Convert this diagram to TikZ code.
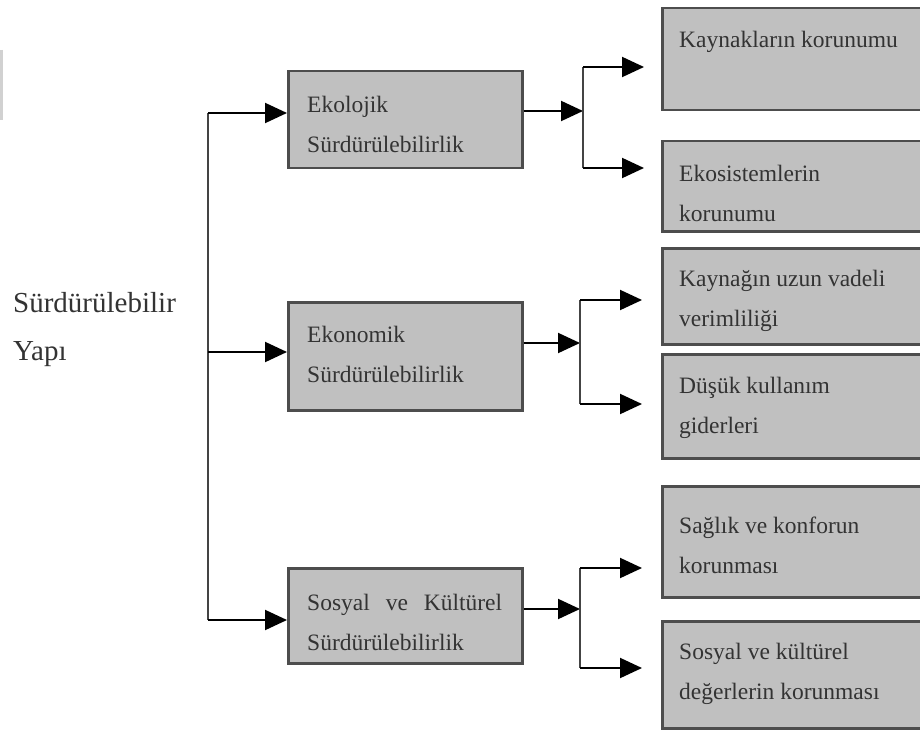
\documentclass[tikz,border=0pt]{standalone}
\usepackage{fontspec}
\setmainfont{Liberation Serif}
\usetikzlibrary{arrows.meta}
\definecolor{boxfill}{HTML}{C0C0C0}
\definecolor{boxline}{HTML}{4D4D4D}
\definecolor{conn}{HTML}{444444}
\definecolor{txtc}{HTML}{333333}
\tikzset{
  midbox/.style={draw=boxline, fill=boxfill, line width=2.5pt, minimum width=234pt, anchor=north west, inner sep=0pt},
  rbox/.style={draw=boxline, fill=boxfill, line width=2.5pt, minimum width=270pt, anchor=north west, inner sep=0pt},
  boxtxt/.style={anchor=west, align=left, text=txtc, inner sep=0pt, font=\fontsize{23.5}{40}\selectfont},
  conline/.style={draw=conn, line width=2pt},
  arr/.style={conline, -{Triangle[length=22pt,width=20pt]}, black},
}
\begin{document}
\begin{tikzpicture}[x=1pt,y=-1pt]
\useasboundingbox (0,0) rectangle (920,730);
% faint mark at left edge
\draw[draw=black!18, line width=3pt] (1,50) -- (1,120);
% left label
\node[anchor=west, align=left, text=txtc, inner sep=0pt, font=\fontsize{29}{48}\selectfont] (root) at (13,330) {Sürdürülebilir\\Yapı};
% middle boxes
\node[midbox, minimum height=97pt] (m1) at (287,70) {};
\node[midbox, minimum height=108pt] (m2) at (287,301) {};
\node[midbox, minimum height=95pt] (m3) at (287,567) {};
\node[boxtxt] (m1t) at (307,124) {Ekolojik\\Sürdürülebilirlik};
\node[boxtxt] (m2t) at (307,354) {Ekonomik\\Sürdürülebilirlik};
\node[boxtxt] (m3t) at (307,622) {\makebox[195pt][s]{Sosyal ve Kültürel}\\Sürdürülebilirlik};
% right boxes
\node[rbox, minimum height=102pt] (r1) at (661,7) {};
\node[rbox, minimum height=90pt] (r2) at (661,140) {};
\node[rbox, minimum height=96pt] (r3) at (661,247) {};
\node[rbox, minimum height=104pt] (r4) at (661,353) {};
\node[rbox, minimum height=111pt] (r5) at (661,485) {};
\node[rbox, minimum height=107pt] (r6) at (661,620) {};
\node[boxtxt] (r1t) at (679,42) {Kaynakların korunumu};
\node[boxtxt] (r2t) at (679,193) {Ekosistemlerin\\korunumu};
\node[boxtxt] (r3t) at (679,301) {Kaynağın uzun vadeli\\verimliliği};
\node[boxtxt] (r4t) at (679,408) {Düşük kullanım\\giderleri};
\node[boxtxt] (r5t) at (679,545) {Sağlık ve konforun\\korunması};
\node[boxtxt] (r6t) at (679,674) {Sosyal ve kültürel\\değerlerin korunması};
% trunk
\coordinate (t1) at (208,113);
\coordinate (t2) at (208,352);
\coordinate (t3) at (208,620);
\draw[conline] (t1) -- (t3);
\draw[arr] (t1) -- (m1.west |- t1);
\draw[arr] (t2) -- (m2.west |- t2);
\draw[arr] (t3) -- (m3.west |- t3);
% junctions
\coordinate (j1) at (583,111);
\coordinate (j1a) at (583,67);
\coordinate (j1b) at (583,168);
\coordinate (j2) at (580,343);
\coordinate (j2a) at (580,300);
\coordinate (j2b) at (580,404);
\coordinate (j3) at (580,609);
\coordinate (j3a) at (580,568);
\coordinate (j3b) at (580,668);
\coordinate (e1a) at (644,67);
\coordinate (e1b) at (644,168);
\coordinate (e2a) at (642,300);
\coordinate (e2b) at (642,404);
\coordinate (e3a) at (642,568);
\coordinate (e3b) at (642,668);
\draw[arr] (m1.east |- j1) -- (j1);
\draw[arr] (m2.east |- j2) -- (j2);
\draw[arr] (m3.east |- j3) -- (j3);
\draw[conline] (j1a) -- (j1b);
\draw[conline] (j2a) -- (j2b);
\draw[conline] (j3a) -- (j3b);
\draw[arr] (j1a) -- (e1a);
\draw[arr] (j1b) -- (e1b);
\draw[arr] (j2a) -- (e2a);
\draw[arr] (j2b) -- (e2b);
\draw[arr] (j3a) -- (e3a);
\draw[arr] (j3b) -- (e3b);
\end{tikzpicture}
\end{document}
